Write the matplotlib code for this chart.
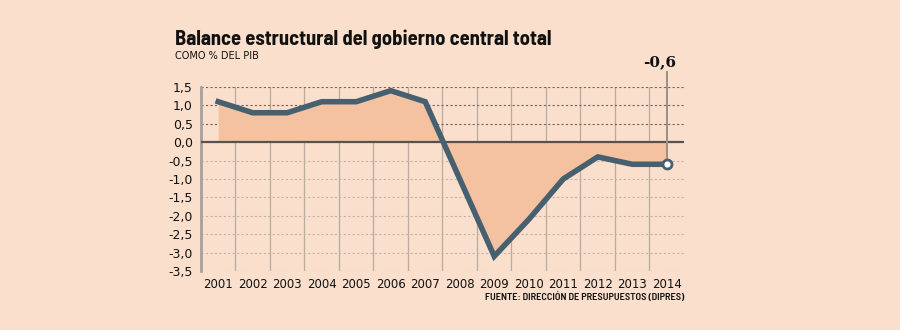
import matplotlib.pyplot as plt
from matplotlib.ticker import FuncFormatter

years = ["2001", "2002", "2003", "2004", "2005", "2006", "2007",
         "2008", "2009", "2010", "2011", "2012", "2013", "2014"]
balance = [1.1, 0.8, 0.8, 1.1, 1.1, 1.4, 1.1,
           -1.0, -3.1, -2.1, -1.0, -0.4, -0.6, -0.6]
y_ticks = [1.5, 1.0, 0.5, 0.0, -0.5, -1.0, -1.5, -2.0, -2.5, -3.0, -3.5]

BG = "#f9dfcc"
FILL = "#f4c2a1"
LINE = "#46606f"
NARROW = "Barlow Semi Condensed"

fig = plt.figure(figsize=(9, 3.3), dpi=100, facecolor=BG)
ax = fig.add_axes([0.2233, 0.1788, 0.5367, 0.5576], facecolor=BG)

x = list(range(len(years)))
ax.set_xlim(-0.5, len(years) - 0.5)
ax.set_ylim(-3.5, 1.5)

# grid: category boundaries vertically, dotted rules horizontally
for b in range(1, len(years)):
    ax.axvline(b - 0.5, color="#b9aba0", lw=0.9, zorder=1)
for t in y_ticks:
    if t == 0:
        continue
    c = "#6f6660" if t > 0 else "#c5b3a6"
    ax.axhline(t, color=c, lw=0.8, ls=(0, (2, 2)), zorder=1)

ax.fill_between(x, balance, 0, color=FILL, lw=0, zorder=2)
ax.axhline(0, color="#5a514c", lw=1.6, zorder=3)
ax.plot(x, balance, color=LINE, lw=4, solid_joinstyle="miter", zorder=4)

# last value callout
last = len(years) - 1
ax.plot([last, last], [balance[-1], 1.9], color="#9a8f88", lw=1.4,
        clip_on=False, zorder=3)
ax.plot(last, balance[-1], "o", ms=6.5, mfc="white", mec=LINE, mew=2,
        zorder=5)
ax.text(last - 0.2, 1.98, f"{balance[-1]:.1f}".replace(".", ","),
        ha="center", va="bottom", fontsize=11, fontweight="bold",
        family="DejaVu Serif", color="#111111")

ax.set_xticks(x)
ax.set_xticklabels(years)
ax.set_yticks(y_ticks)
ax.yaxis.set_major_formatter(FuncFormatter(lambda v, p: f"{v:.1f}".replace(".", ",")))
ax.tick_params(length=0, labelsize=8.5, colors="#111111")
ax.tick_params(axis="y", labelsize=9, pad=6)
ax.tick_params(axis="x", pad=5)

for s in ["top", "right", "bottom"]:
    ax.spines[s].set_visible(False)
ax.spines["left"].set_color("#a9a09a")
ax.spines["left"].set_linewidth(2)

fig.text(0.194, 0.864, "Balance estructural del gobierno central total",
         fontsize=14.8, fontweight="bold", family=NARROW,
         color="#111111", va="baseline")
fig.text(0.194, 0.82, "COMO % DEL PIB", fontsize=7, color="#111111",
         va="baseline")
fig.text(0.76, 0.09, "FUENTE: DIRECCIÓN DE PRESUPUESTOS (DIPRES)",
         fontsize=7.4, fontweight="semibold", family=NARROW,
         color="#111111", ha="right", va="baseline")

fig.savefig("out.png", dpi=100, facecolor=BG)
